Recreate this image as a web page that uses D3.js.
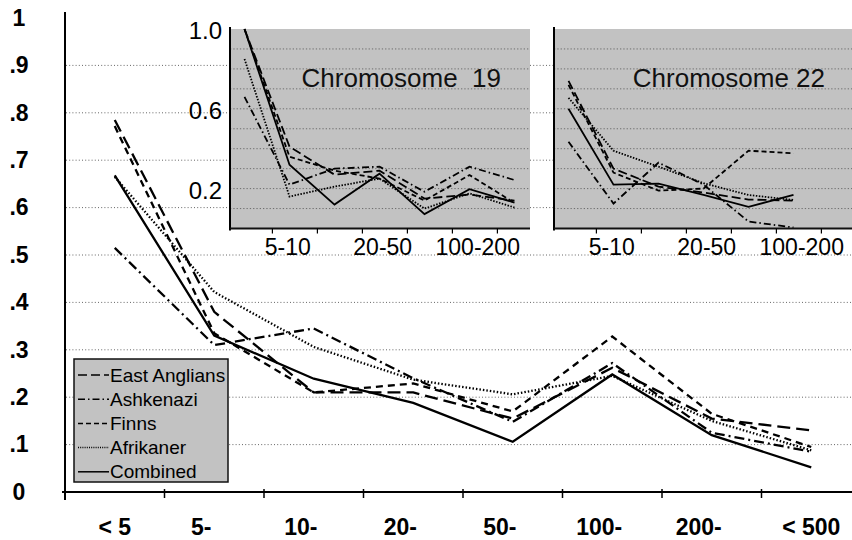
<!DOCTYPE html>
<html>
<head>
<meta charset="utf-8">
<script src="https://cdn.jsdelivr.net/npm/d3@7"></script>
<style>
body { margin: 0; background: #fff; }
svg { display: block; font-family: "Liberation Sans", Arial, Helvetica, sans-serif; }
</style>
</head>
<body>
<svg id="chart" width="852" height="540"></svg>
<script>
// main chart data
const categories = ["< 5", "5-", "10-", "20-", "50-", "100-", "200-", "< 500"];
const yTicks = [0, 0.1, 0.2, 0.3, 0.4, 0.5, 0.6, 0.7, 0.8, 0.9, 1];
const seriesNames = ["East Anglians", "Ashkenazi", "Finns", "Afrikaner", "Combined"];
const eastAnglians = [0.785, 0.38, 0.21, 0.21, 0.155, 0.262, 0.155, 0.13];
const ashkenazi    = [0.515, 0.31, 0.345, 0.24, 0.148, 0.272, 0.125, 0.085];
const finns        = [0.772, 0.335, 0.21, 0.229, 0.17, 0.328, 0.165, 0.095];
const afrikaner    = [0.665, 0.422, 0.306, 0.237, 0.206, 0.245, 0.15, 0.088];
const combined     = [0.668, 0.33, 0.239, 0.188, 0.106, 0.248, 0.12, 0.052];

// inset data
const insetCategories = ["<5", "5-10", "10-20", "20-50", "50-100", "100-200", "200-500"];
const insetLabels = ["5-10", "20-50", "100-200"];
const insetYTicks = [0.2, 0.6, 1.0];
const insetGrid = [0.1, 0.2, 0.3, 0.4, 0.5, 0.6, 0.7, 0.8, 0.9];
const eastAnglians19 = [1.0, 0.41, 0.27, 0.29, 0.15, 0.17, 0.14];
const ashkenazi19    = [0.66, 0.22, 0.30, 0.31, 0.184, 0.31, 0.243];
const finns19        = [1.0, 0.36, 0.29, 0.25, 0.14, 0.268, 0.128];
const afrikaner19    = [0.85, 0.16, 0.21, 0.25, 0.10, 0.176, 0.105];
const combined19     = [1.0, 0.32, 0.12, 0.275, 0.072, 0.197, 0.13];
const eastAnglians22 = [0.74, 0.30, 0.21, 0.18, 0.145, 0.14];
const ashkenazi22    = [0.435, 0.125, 0.33, 0.22, 0.035, 0.005];
const finns22        = [0.72, 0.28, 0.19, 0.20, 0.39, 0.377];
const afrikaner22    = [0.655, 0.39, 0.31, 0.227, 0.168, 0.143];
const combined22     = [0.60, 0.22, 0.225, 0.168, 0.109, 0.168];

const dashMain = {
    "East Anglians": "13,6",
    "Ashkenazi": "10,4,2,4",
    "Finns": "7,5",
    "Afrikaner": "1.5,2",
    "Combined": null
};
const dashInset = {
    "East Anglians": "9,4",
    "Ashkenazi": "7,3,1.5,3",
    "Finns": "5,3",
    "Afrikaner": "1.5,1.5",
    "Combined": null
};

const svg = d3.select("#chart");
const PANEL_GRAY = "#c2c2c2";

const x = d3.scaleBand().domain(categories).range([65, 861]);
const y = d3.scaleLinear().domain([0, 1]).range([492, 18]);

// main gridlines
svg.append("g")
   .selectAll("line")
   .data(yTicks.filter(v => v > 0 && v < 1))
   .enter()
   .append("line")
   .attr("x1", 66).attr("x2", 852)
   .attr("y1", d => y(d)).attr("y2", d => y(d))
   .attr("stroke", "#666")
   .attr("stroke-width", 1)
   .attr("stroke-dasharray", "1,2.2");

// main series
const mainData = [eastAnglians, ashkenazi, finns, afrikaner, combined];
const line = d3.line()
               .x((d, i) => x(categories[i]) + x.bandwidth() / 2)
               .y(d => y(d));

svg.append("g")
   .selectAll("path")
   .data(mainData)
   .enter()
   .append("path")
   .attr("d", d => line(d))
   .attr("fill", "none")
   .attr("stroke", "#000")
   .attr("stroke-width", 2.3)
   .attr("stroke-dasharray", (d, i) => dashMain[seriesNames[i]]);

// main axes
svg.append("line")
   .attr("x1", 62).attr("x2", 852)
   .attr("y1", y(0)).attr("y2", y(0))
   .attr("stroke", "#000").attr("stroke-width", 2);
svg.append("line")
   .attr("x1", 65).attr("x2", 65)
   .attr("y1", 12).attr("y2", 500)
   .attr("stroke", "#000").attr("stroke-width", 2);

svg.append("g")
   .selectAll("line")
   .data(categories.slice(1))
   .enter()
   .append("line")
   .attr("x1", d => x(d)).attr("x2", d => x(d))
   .attr("y1", y(0) - 3).attr("y2", y(0) + 6)
   .attr("stroke", "#000").attr("stroke-width", 1.5);

const xAxis = d3.axisBottom(x).tickSize(0).tickPadding(27);
const gx = svg.append("g")
              .attr("transform", `translate(0, ${y(0)})`)
              .call(xAxis);
gx.select(".domain").remove();
gx.selectAll("text")
  .attr("font-size", 23)
  .attr("font-weight", "bold")
  .attr("font-family", "Liberation Sans, Arial, sans-serif")
  .attr("fill", "#000")
  .attr("dx", d => d.endsWith("-") ? -13 : 0);

const yAxis = d3.axisLeft(y)
                .tickValues(yTicks)
                .tickSize(0)
                .tickFormat(d => d === 0 ? "0" : d === 1 ? "1" : "." + Math.round(d * 10));
const gy = svg.append("g")
              .attr("transform", "translate(65, 0)")
              .call(yAxis);
gy.select(".domain").remove();
gy.selectAll("text")
  .attr("x", -46)
  .attr("text-anchor", "middle")
  .attr("font-size", 23)
  .attr("font-weight", "bold")
  .attr("font-family", "Liberation Sans, Arial, sans-serif")
  .attr("fill", "#000");

// insets
function drawInset(left, title, data, showY) {
    const g = svg.append("g");
    const xIn = d3.scaleBand().domain(insetCategories).range([left - 8, left - 8 + 45 * insetCategories.length]);
    const xLab = d3.scaleBand().domain(insetCategories).range([left - 13.5, left - 13.5 + 47.5 * insetCategories.length]);
    const yIn = d3.scaleLinear().domain([0, 1]).range([228.5, 29]);
    const right = left + 300;

    g.append("rect")
     .attr("x", left).attr("y", yIn(1))
     .attr("width", 300).attr("height", yIn(0) - yIn(1))
     .attr("fill", PANEL_GRAY);

    g.selectAll(".grid")
     .data(insetGrid)
     .enter()
     .append("line")
     .attr("x1", left).attr("x2", right)
     .attr("y1", d => yIn(d)).attr("y2", d => yIn(d))
     .attr("stroke", "#6e6e6e")
     .attr("stroke-width", 1)
     .attr("stroke-dasharray", "1.3,2");

    g.append("text")
     .attr("x", left + 271).attr("y", 87)
     .attr("text-anchor", "end")
     .attr("font-size", 26)
     .style("white-space", "pre")
     .attr("fill", "#111")
     .text(title);

    const lineIn = d3.line()
                     .x((d, i) => xIn(insetCategories[i]) + xIn.bandwidth() / 2)
                     .y(d => yIn(d));

    g.selectAll(".series")
     .data(data)
     .enter()
     .append("path")
     .attr("d", d => lineIn(d))
     .attr("fill", "none")
     .attr("stroke", "#000")
     .attr("stroke-width", 1.8)
     .attr("stroke-dasharray", (d, i) => dashInset[seriesNames[i]]);

    g.append("line")
     .attr("x1", left).attr("x2", left)
     .attr("y1", yIn(1) - 2).attr("y2", yIn(0) + 2)
     .attr("stroke", "#000").attr("stroke-width", 2);
    g.append("line")
     .attr("x1", left).attr("x2", right)
     .attr("y1", yIn(0)).attr("y2", yIn(0))
     .attr("stroke", "#111").attr("stroke-width", 2);

    g.selectAll(".tick")
     .data(insetCategories.slice(0, 6))
     .enter()
     .append("line")
     .attr("x1", d => xIn(d) + xIn.bandwidth() * 1.12)
     .attr("x2", d => xIn(d) + xIn.bandwidth() * 1.12)
     .attr("y1", yIn(0)).attr("y2", yIn(0) + 5)
     .attr("stroke", "#000").attr("stroke-width", 1.2);

    g.selectAll(".xlab")
     .data(insetLabels)
     .enter()
     .append("text")
     .attr("x", d => xLab(d) + xLab.bandwidth() / 2)
     .attr("y", 255)
     .attr("text-anchor", "middle")
     .attr("font-size", 23)
     .attr("fill", "#000")
     .text(d => d);

    if (showY) {
        g.selectAll(".ylab")
         .data(insetYTicks)
         .enter()
         .append("text")
         .attr("x", left - 8)
         .attr("y", d => yIn(d) + 2)
         .attr("dy", "0.35em")
         .attr("text-anchor", "end")
         .attr("font-size", 24)
         .attr("fill", "#000")
         .text(d => d.toFixed(1));
    }
}

drawInset(230, "Chromosome  19",
          [eastAnglians19, ashkenazi19, finns19, afrikaner19, combined19], true);
drawInset(554, "Chromosome 22",
          [eastAnglians22, ashkenazi22, finns22, afrikaner22, combined22], false);

// legend
const legend = svg.append("g").attr("transform", "translate(74, 359)");
legend.append("rect")
      .attr("width", 154).attr("height", 123)
      .attr("fill", PANEL_GRAY)
      .attr("stroke", "#111").attr("stroke-width", 1.5);
const rows = legend.selectAll(".row")
                   .data(seriesNames)
                   .enter()
                   .append("g")
                   .attr("transform", (d, i) => `translate(0, ${16 + i * 24.2})`);
rows.append("line")
    .attr("x1", 4).attr("x2", 35)
    .attr("stroke", "#000").attr("stroke-width", 1.5)
    .attr("stroke-dasharray", d => d === "Afrikaner" ? "1,1.2" : d === "Combined" ? null : dashInset[d]);
rows.append("text")
    .attr("x", 36)
    .attr("dy", "0.35em")
    .attr("font-size", 19)
    .attr("fill", "#000")
    .text(d => d);
</script>
</body>
</html>
